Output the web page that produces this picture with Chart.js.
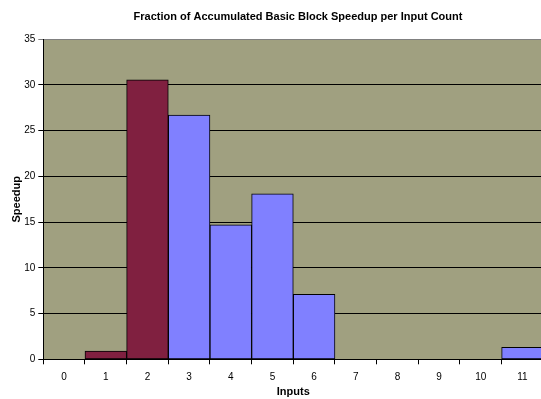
<!DOCTYPE html>
<html>
<head>
<meta charset="utf-8">
<script src="https://cdn.jsdelivr.net/npm/chart.js@4.4.1/dist/chart.umd.min.js"></script>
<style>
  html, body { margin: 0; padding: 0; background: #ffffff; overflow: hidden; }
  #wrap { width: 541px; height: 399px; overflow: hidden; position: relative; }
  #box { width: 596px; height: 399px; position: absolute; left: 0; top: 0; }
</style>
</head>
<body>
<div id="wrap"><div id="box"><canvas id="speedupChart"></canvas></div></div>
<script>
// number of inputs per basic block
const inputs = ["0", "1", "2", "3", "4", "5", "6", "7", "8", "9", "10", "11"];
// speedup, split in the two colour groups of the original sheet
const speedupLow = [null, 0.9, 30.55, null, null, null, null, null, null, null, null, null];
const speedupHigh = [0, null, null, 26.7, 14.7, 18.1, 7.1, 0, 0, 0, 0, 1.3];
const yTicks = [0, 5, 10, 15, 20, 25, 30, 35];

const fontFamily = "'Liberation Sans', Arial, sans-serif";

// olive plot area like the old Excel default
const plotBackground = {
  id: "plotBackground",
  beforeDraw: function (chart) {
    const a = chart.chartArea;
    const c = chart.ctx;
    c.save();
    c.fillStyle = "#A0A080";
    c.fillRect(a.left, a.top, a.right - a.left, a.bottom - a.top);
    c.restore();
  },
};

const ctx = document.getElementById("speedupChart").getContext("2d");
const speedupChart = new Chart(ctx, {
  type: "bar",
  data: {
    labels: inputs,
    datasets: [
      {
        label: "Speedup (1-2 inputs)",
        data: speedupLow,
        backgroundColor: "#802040",
        borderColor: "#000000",
        borderWidth: 1,
        borderSkipped: false,
      },
      {
        label: "Speedup",
        data: speedupHigh,
        backgroundColor: "#8080FF",
        borderColor: "#000000",
        borderWidth: 1,
        borderSkipped: false,
      },
    ],
  },
  options: {
    responsive: true,
    maintainAspectRatio: false,
    animation: false,
    barPercentage: 1,
    categoryPercentage: 1,
    layout: { padding: 0 },
    plugins: {
      legend: { display: false },
      tooltip: { enabled: false },
      title: {
        display: true,
        text: "Fraction of Accumulated Basic Block Speedup per Input Count",
        color: "#000000",
        font: { family: fontFamily, size: 11, weight: "bold" },
        padding: { top: 10, bottom: 16 },
      },
    },
    scales: {
      x: {
        stacked: true,
        offset: true,
        grid: {
          offset: true,
          drawOnChartArea: false,
          drawTicks: true,
          tickLength: 5,
          color: "#000000",
        },
        border: { color: "#000000", width: 1 },
        ticks: {
          color: "#000000",
          padding: 7,
          maxRotation: 0,
          font: { family: fontFamily, size: 10 },
        },
        title: {
          display: true,
          text: "Inputs",
          color: "#000000",
          font: { family: fontFamily, size: 11, weight: "bold" },
          padding: { top: 0, bottom: 0 },
        },
        afterFit: function (scale) {
          scale.height = 39.7;
        },
      },
      y: {
        stacked: true,
        min: 0,
        max: 35,
        afterBuildTicks: function (scale) {
          scale.ticks = yTicks.map(function (v) {
            return { value: v };
          });
        },
        grid: {
          drawTicks: true,
          tickLength: 5,
          color: function (c) {
            return c.tick && c.tick.value === 35 ? "#808080" : "#000000";
          },
        },
        border: { color: "#000000", width: 1 },
        ticks: {
          color: "#000000",
          padding: 3,
          font: { family: fontFamily, size: 10 },
        },
        title: {
          display: true,
          text: "Speedup",
          color: "#000000",
          font: { family: fontFamily, size: 11, weight: "bold" },
          padding: { top: 10, bottom: 0 },
        },
        afterFit: function (scale) {
          scale.width = 43.3;
        },
      },
      // empty right-hand space of the original sheet (cut off by the crop)
      yRight: {
        position: "right",
        display: true,
        grid: { display: false, drawTicks: false },
        border: { display: false },
        ticks: { display: false },
        afterFit: function (scale) {
          scale.width = 52.7;
        },
      },
    },
  },
  plugins: [plotBackground],
});
</script>
</body>
</html>
